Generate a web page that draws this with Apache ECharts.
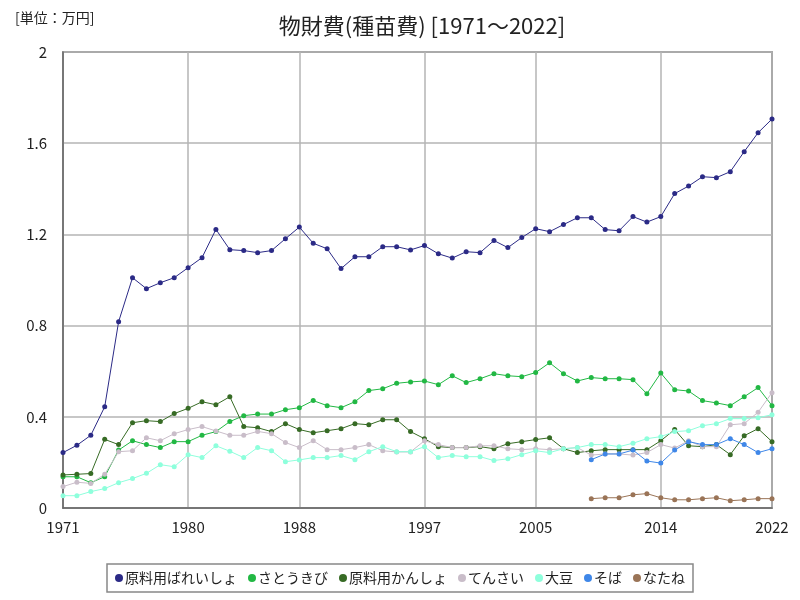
<!DOCTYPE html>
<html><head><meta charset="utf-8">
<script src="https://cdn.jsdelivr.net/npm/echarts@6/dist/echarts.min.js"></script>
<style>html,body{margin:0;padding:0;background:#fff}#c{width:800px;height:600px}</style>
</head><body><div id="c"></div>
<script>
const years = [];
for (let y = 1971; y <= 2022; y++) years.push(String(y));
const tickYears = ['1971','1980','1988','1997','2005','2014','2022'];
const yTicks = [0, 0.4, 0.8, 1.2, 1.6, 2];

const bareishoValues = [0.243,0.275,0.319,0.444,0.817,1.010,0.962,0.988,1.010,1.054,1.098,1.222,1.133,1.129,1.120,1.129,1.181,1.232,1.161,1.137,1.050,1.102,1.102,1.146,1.146,1.132,1.151,1.115,1.096,1.124,1.120,1.173,1.142,1.186,1.225,1.212,1.243,1.273,1.273,1.221,1.216,1.278,1.254,1.278,1.379,1.412,1.453,1.449,1.475,1.563,1.646,1.706];
const satoukibiValues = [0.137,0.137,0.111,0.137,0.254,0.295,0.278,0.265,0.291,0.291,0.319,0.335,0.379,0.405,0.412,0.412,0.431,0.440,0.471,0.449,0.440,0.466,0.515,0.523,0.547,0.553,0.557,0.541,0.580,0.550,0.567,0.589,0.580,0.576,0.594,0.637,0.589,0.557,0.572,0.567,0.567,0.563,0.501,0.592,0.519,0.513,0.471,0.461,0.449,0.488,0.528,0.449];
const kanshoValues = [0.145,0.148,0.151,0.301,0.278,0.374,0.383,0.379,0.414,0.437,0.466,0.453,0.488,0.357,0.352,0.335,0.370,0.344,0.330,0.339,0.348,0.370,0.365,0.387,0.387,0.335,0.304,0.269,0.265,0.265,0.269,0.260,0.282,0.291,0.300,0.308,0.260,0.243,0.251,0.256,0.256,0.256,0.256,0.295,0.344,0.273,0.269,0.278,0.234,0.317,0.348,0.291];
const tensaiValues = [0.094,0.113,0.108,0.148,0.247,0.251,0.308,0.295,0.326,0.344,0.357,0.338,0.319,0.319,0.336,0.326,0.287,0.265,0.295,0.256,0.256,0.265,0.278,0.251,0.246,0.246,0.295,0.278,0.265,0.265,0.273,0.273,0.260,0.256,0.260,0.256,0.260,0.265,0.232,0.237,0.237,0.232,0.243,0.278,0.263,0.295,0.269,0.269,0.365,0.370,0.420,0.506];
const daizuValues = [0.054,0.054,0.072,0.085,0.111,0.129,0.152,0.190,0.181,0.234,0.221,0.273,0.249,0.221,0.265,0.251,0.203,0.211,0.221,0.221,0.230,0.212,0.247,0.269,0.247,0.247,0.269,0.221,0.230,0.225,0.225,0.208,0.216,0.234,0.251,0.243,0.260,0.265,0.278,0.278,0.269,0.284,0.304,0.313,0.335,0.339,0.361,0.370,0.392,0.392,0.396,0.409];
const sobaValues = [null,null,null,null,null,null,null,null,null,null,null,null,null,null,null,null,null,null,null,null,null,null,null,null,null,null,null,null,null,null,null,null,null,null,null,null,null,null,0.212,0.237,0.237,0.254,0.206,0.197,0.254,0.291,0.278,0.278,0.304,0.278,0.243,0.260];
const nataneValues = [null,null,null,null,null,null,null,null,null,null,null,null,null,null,null,null,null,null,null,null,null,null,null,null,null,null,null,null,null,null,null,null,null,null,null,null,null,null,0.041,0.045,0.045,0.058,0.063,0.045,0.036,0.036,0.041,0.045,0.032,0.036,0.041,0.041];

const seriesNames = ['原料用ばれいしょ','さとうきび','原料用かんしょ','てんさい','大豆','そば','なたね'];
const seriesData = [bareishoValues, satoukibiValues, kanshoValues, tensaiValues, daizuValues, sobaValues, nataneValues];
const colors = ['#2b2a86','#22b844','#376b25','#c9bdc9','#8effdc','#3f87e8','#9a7457'];

const tickIdx = new Set(tickYears.map(t => years.indexOf(t)));
const showTick = (i) => tickIdx.has(i);
const font = '"Noto Sans CJK JP", sans-serif';

const chart = echarts.init(document.getElementById('c'));
chart.setOption({
  animation: false,
  color: colors,
  textStyle: { fontFamily: font },
  title: [
    { text: '物財費(種苗費) [1971～2022]', left: 417, textAlign: 'center', top: 10,
      textStyle: { fontSize: 22, fontWeight: 'normal', color: '#222', fontFamily: font } },
    { text: '[単位：万円]', left: 10, top: 6,
      textStyle: { fontSize: 14, fontWeight: 'normal', color: '#222', fontFamily: font } }
  ],
  legend: {
    bottom: 8, left: 'center',
    icon: 'circle', itemWidth: 8, itemHeight: 8, itemGap: 11,
    borderColor: '#888', borderWidth: 1.5, padding: [7, 8],
    textStyle: { fontSize: 14, color: '#222', fontFamily: font, padding: [0, 0, 0, -3] },
    data: seriesNames
  },
  grid: { left: 63, right: 28, top: 52, bottom: 92, show: true, borderColor: '#666', borderWidth: 1.5 },
  xAxis: {
    type: 'category', data: years, boundaryGap: false,
    axisLine: { lineStyle: { color: '#666', width: 1.5 } },
    axisTick: { show: false },
    axisLabel: { interval: showTick, fontSize: 15, color: '#222', margin: 12, fontFamily: font },
    splitLine: { show: true, interval: showTick, lineStyle: { color: '#b4b4b4', width: 1.5 } }
  },
  yAxis: {
    type: 'value', min: yTicks[0], max: yTicks[yTicks.length - 1], interval: 0.4,
    axisLine: { show: true, lineStyle: { color: '#666', width: 1.5 } },
    axisTick: { show: false },
    axisLabel: { fontSize: 15, color: '#222', margin: 16, fontFamily: font },
    splitLine: { lineStyle: { color: '#b4b4b4', width: 1.5 } }
  },
  series: seriesNames.map((n, i) => ({
    name: n, type: 'line', data: seriesData[i],
    symbol: 'circle', symbolSize: 5, showSymbol: true,
    lineStyle: { width: 1, color: colors[i] },
    itemStyle: { color: colors[i] },
    connectNulls: false
  }))
});
</script></body></html>
